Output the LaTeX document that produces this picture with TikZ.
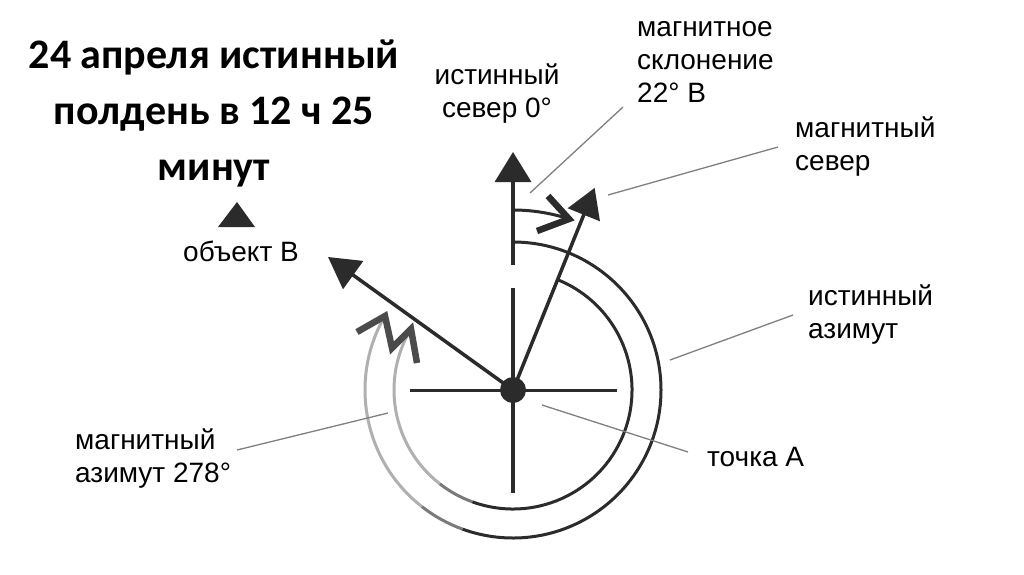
\documentclass[tikz,border=0pt]{standalone}
\usepackage{fontspec}
\setmainfont{Liberation Sans}
\newfontfamily\titlefont{Carlito}
\usetikzlibrary{arrows.meta}
\definecolor{ink}{HTML}{2B2B2B}
\definecolor{midgray}{HTML}{7A7A7A}
\definecolor{lightgray}{HTML}{B0B0B0}
\definecolor{leadgray}{HTML}{808080}
\tikzset{
  lbl/.style={font=\fontsize{28}{33}\selectfont, inner sep=0pt, align=left, anchor=base west},
  leader/.style={draw=leadgray, line width=1.3pt},
  shaft/.style={draw=ink, line width=3.5pt},
  ring/.style={line width=3pt},
  barb/.style={draw=ink, line width=6.5pt, line join=miter, line cap=butt},
  bigtip/.style={-{Triangle[length=30pt,width=36pt]}}
}
\begin{document}
\begin{tikzpicture}[x=1pt,y=-1pt]
\useasboundingbox (0,0) rectangle (1024,574);
\fill[white] (0,0) rectangle (1024,574);

% title (base anchor = baseline of last line)
\node[font=\titlefont\bfseries\fontsize{42}{56}\selectfont, align=center, inner sep=0pt, anchor=base] (title) at (214,180)
  {24 апреля истинный\\полдень в 12 ч 25\\минут};

% centre and named points
\coordinate (A) at (513,390);
\coordinate (TN) at (513,152);
\coordinate (TNs) at (513,265);
\coordinate (Ntop) at (513,288);
\coordinate (Sbot) at (513,493);
\coordinate (Wend) at (410,390);
\coordinate (Eend) at (617,390);
\coordinate (MN) at ([shift={(A)}] -68:218);
\coordinate (OB) at (328,257);

% rings (true azimuth = outer, magnetic azimuth = inner)
\draw[ring, ink] (A) ++(-90:148) arc[start angle=-90, end angle=110, radius=148];
\draw[ring, midgray] (A) ++(110:148) arc[start angle=110, end angle=128, radius=148];
\draw[ring, lightgray] (A) ++(128:148) arc[start angle=128, end angle=210, radius=148];
\draw[ring, ink] (A) ++(-68:119) arc[start angle=-68, end angle=110, radius=119];
\draw[ring, midgray] (A) ++(110:119) arc[start angle=110, end angle=128, radius=119];
\draw[ring, lightgray] (A) ++(128:119) arc[start angle=128, end angle=211, radius=119];
\draw[barb, draw=ink!85] (357,332) -- (385,316) -- (392,348) -- (411,329) -- (417,363);

% declination arc
\draw[ring, ink] (A) ++(-90:180) arc[start angle=-90, end angle=-72, radius=180];
\draw[barb] (548,196) -- (569,219) -- (537,231);

% cross and shafts
\draw[line width=3pt, ink] (Wend) -- (Eend);
\draw[shaft] (Ntop) -- (Sbot);
\draw[shaft, bigtip] (TNs) -- (TN);
\draw[shaft, -{Triangle[length=29pt,width=34pt]}] (A) -- (MN);
\draw[shaft, -{Triangle[length=31pt,width=34pt]}] (A) -- (OB);
\node[circle, fill=ink, minimum size=26pt, inner sep=0pt] (dotA) at (A) {};

% object B marker
\fill[ink] (237,202) -- (255,227) -- (218,227) -- cycle;
\node[lbl] (lobj) at (183,261) {объект В};

% labels (anchored at the baseline of the last line)
\node[lbl, align=center, anchor=base] (ltn) at (497,117) {истинный\\север 0°};
\node[lbl] (ldec) at (637,102) {магнитное\\склонение\\22° В};
\node[lbl] (lmn) at (795,170) {магнитный\\север};
\node[lbl] (lta) at (808,338) {истинный\\азимут};
\node[lbl] (lpa) at (707,466) {точка А};
\node[lbl] (lma) at (75,482) {магнитный\\азимут 278°};

% leaders
\coordinate (d1) at (623,107); \coordinate (d2) at (530,193);
\coordinate (m1) at (778,147); \coordinate (m2) at (608,195);
\coordinate (t1) at (793,315); \coordinate (t2) at (670,360);
\coordinate (p1) at (688,452); \coordinate (p2) at (542,405);
\coordinate (a1) at (237,450); \coordinate (a2) at (388,413);
\draw[leader] (d1) -- (d2);
\draw[leader] (m1) -- (m2);
\draw[leader] (t1) -- (t2);
\draw[leader] (p1) -- (p2);
\draw[leader] (a1) -- (a2);
\end{tikzpicture}
\end{document}
